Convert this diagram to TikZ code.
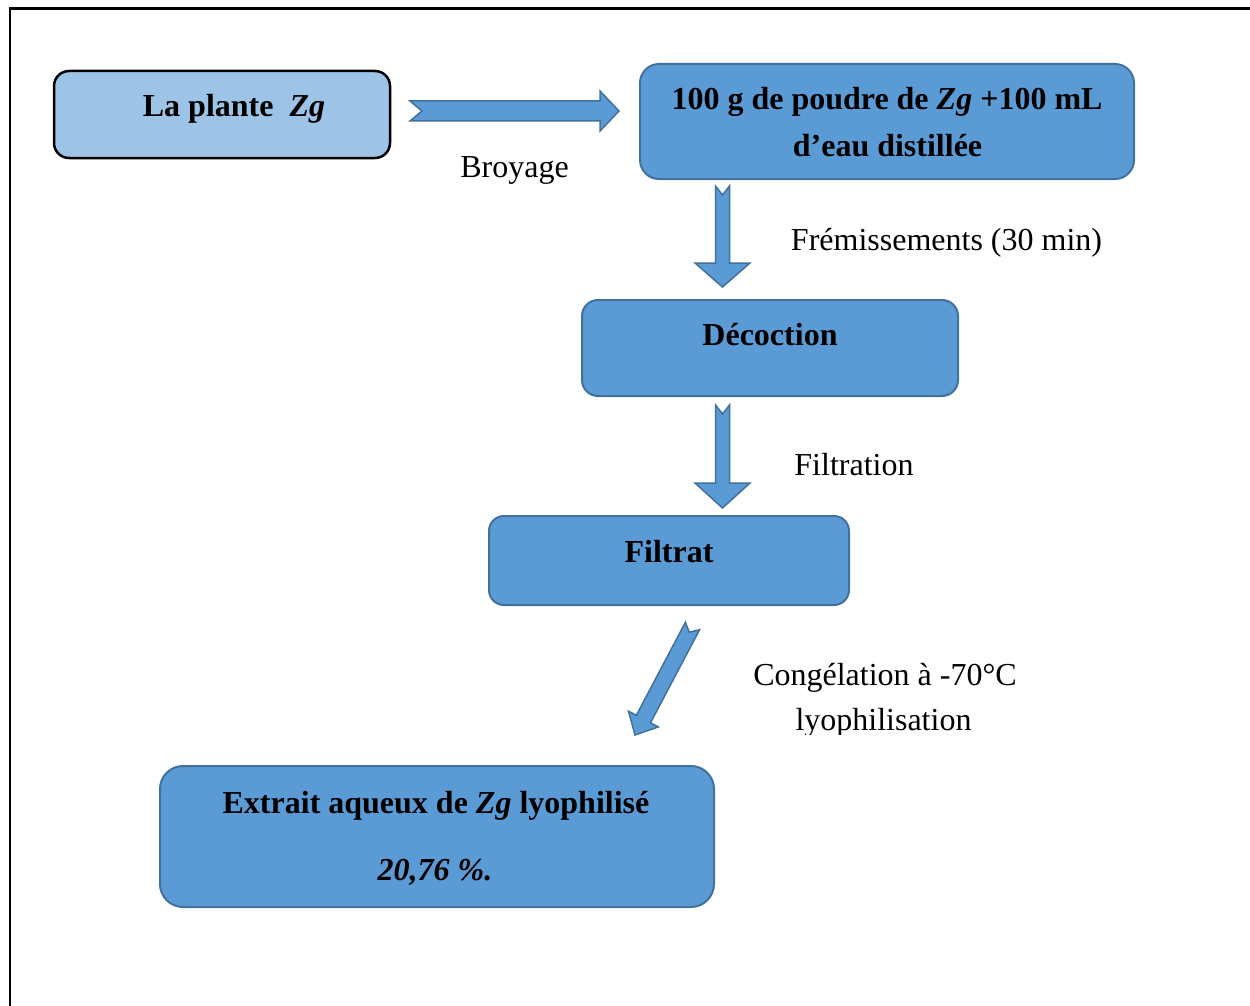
\documentclass[tikz,border=0pt]{standalone}
\usepackage{fontspec}
\setmainfont{Liberation Serif}
\usetikzlibrary{calc}
\definecolor{lightfill}{HTML}{9DC3E6}
\definecolor{midfill}{HTML}{5B9BD5}
\definecolor{edgeblue}{HTML}{41719C}
\tikzset{
  boxlight/.style={draw=black, line width=2.5pt, fill=lightfill, rounded corners=15pt, inner sep=0pt},
  boxmid/.style={draw=edgeblue, line width=2pt, fill=midfill, inner sep=0pt},
  txt/.style={anchor=base, inner sep=0pt, font=\fontsize{32}{40}\selectfont},
  btxt/.style={txt, font=\fontsize{32}{40}\selectfont\bfseries},
  arrowstyle/.style={draw=edgeblue, fill=midfill, line width=1.5pt, line join=miter},
}
% #1 start, #2 end, #3 shaft half width, #4 head half width, #5 head length, #6 notch depth
\newcommand{\blockarrow}[6]{%
  \coordinate (tmpP) at ($(#2)!#5!(#1)$);
  \filldraw[arrowstyle]
    ($(#1)!#3!90:(#2)$) --
    ($(tmpP)!#3!90:(#2)$) --
    ($(tmpP)!#4!90:(#2)$) --
    (#2) --
    ($(tmpP)!#4!-90:(#2)$) --
    ($(tmpP)!#3!-90:(#2)$) --
    ($(#1)!#3!-90:(#2)$) --
    ($(#1)!#6!(#2)$) -- cycle;
}
\begin{document}
\begin{tikzpicture}[x=1pt, y=-1pt]
\useasboundingbox (0,0) rectangle (1250,1006);
% frame
\draw[line width=2.5pt] (10,1006) -- (10,8.5) -- (1250,8.5);

% boxes
\node[boxlight, minimum width=336pt, minimum height=87pt] (plante) at (222,114.5) {};
\node[boxmid, rounded corners=19pt, minimum width=494pt, minimum height=115pt] (poudre) at (887,121.5) {};
\node[boxmid, rounded corners=16pt, minimum width=376pt, minimum height=96pt] (decoction) at (770,348) {};
\node[boxmid, rounded corners=15pt, minimum width=360pt, minimum height=89pt] (filtrat) at (669,560.5) {};
\node[boxmid, rounded corners=23pt, minimum width=554pt, minimum height=141pt] (extrait) at (437,836.5) {};

% box texts
\node[btxt] (t1) at (234,117) {La plante\ \ \textit{Zg}};
\node[btxt] (t2a) at (887,110) {100 g de poudre de \textit{Zg} +100 mL};
\node[btxt] (t2b) at (887.5,157) {d’eau distillée};
\node[btxt] (t3) at (770,345) {Décoction};
\node[btxt] (t4) at (669,562) {Filtrat};
\node[btxt] (t5a) at (436,813) {Extrait aqueux de \textit{Zg} lyophilisé};
\node[btxt] (t5b) at (435,880) {\textit{20,76 \%.}};

% arrows
\coordinate (a1s) at (410,111);
\coordinate (a1e) at (619,111);
\blockarrow{a1s}{a1e}{10pt}{20pt}{19pt}{12pt}
\coordinate (a2s) at (722.5,186);
\coordinate (a2e) at (722.5,287);
\blockarrow{a2s}{a2e}{7pt}{27.5pt}{24pt}{9pt}
\coordinate (a3s) at (722.5,405);
\coordinate (a3e) at (722.5,508);
\blockarrow{a3s}{a3e}{7pt}{27.5pt}{25pt}{9pt}
\coordinate (a4s) at (692.5,626);
\coordinate (a4e) at (635,735);
\blockarrow{a4s}{a4e}{8pt}{16.8pt}{18pt}{7pt}

% labels
\node[txt] (l1) at (514.5,177) {Broyage};
\node[txt] (l2) at (946.5,250) {Frémissements (30 min)};
\node[txt] (l3) at (854,475) {Filtration};
\node[txt] (l4) at (885,685) {Congélation à -70°C};
\begin{scope}
\clip (700,690) rectangle (1100,734);
\node[txt] (l5) at (883.5,730) {lyophilisation};
\end{scope}
\end{tikzpicture}
\end{document}
